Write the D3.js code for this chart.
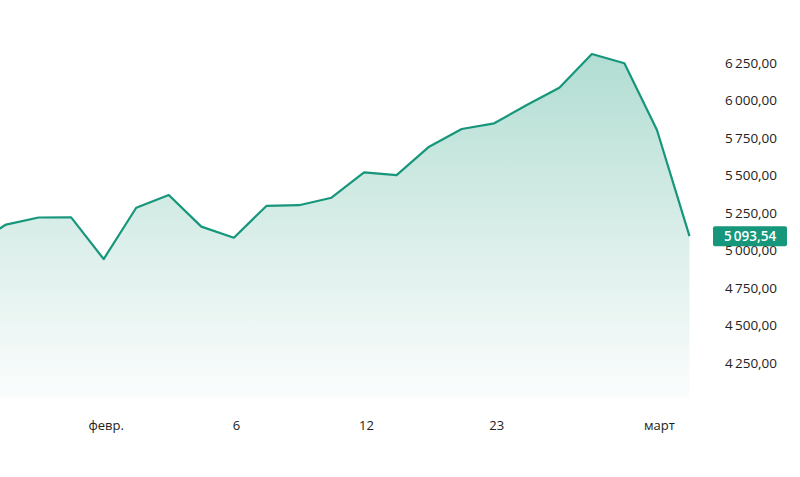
<!DOCTYPE html>
<html><head><meta charset="utf-8">
<script src="https://cdn.jsdelivr.net/npm/d3@7"></script>
<style>
html,body{margin:0;padding:0;background:#fff;}
svg{display:block;}
text{font-family:"Open Sans","Noto Sans",sans-serif;}
</style></head>
<body>
<svg id="chart" width="800" height="477"></svg>
<script>
// trading sessions (index) and close values
const categories = d3.range(23);
const values = [5035, 5171, 5218, 5219, 4941, 5283, 5368, 5157, 5083, 5295, 5300, 5350, 5519, 5501, 5690, 5808, 5846, 5968, 6083, 6308, 6246, 5801, 5093.54];
const xTickIndex = [4, 8, 12, 16, 21];
const xTickLabels = ["февр.", "6", "12", "23", "март"];
const yTicks = [4250, 4500, 4750, 5000, 5250, 5500, 5750, 6000, 6250];
const lastValue = 5093.54;

const svg = d3.select("#chart");
const x = d3.scaleLinear().domain([0, 22]).range([-26.5, 689.5]);
const y = d3.scaleLinear().domain([4250, 6250]).range([362.7, 62.7]);
const plotBottom = 398;

const fmt = v => {
  const s = v.toFixed(2).split(".");
  const intPart = s[0].replace(/\B(?=(\d{3})+(?!\d))/g, "\u2009");
  return intPart + "," + s[1];
};

const defs = svg.append("defs");
defs.append("clipPath").attr("id", "clip").append("rect")
  .attr("x", 0).attr("y", 0).attr("width", 700).attr("height", plotBottom);
const grad = defs.append("linearGradient").attr("id", "fillGrad")
  .attr("gradientUnits", "userSpaceOnUse")
  .attr("x1", 0).attr("x2", 0).attr("y1", y(d3.max(values))).attr("y2", plotBottom);
grad.append("stop").attr("offset", 0).attr("stop-color", "#b1ddd2");
grad.append("stop").attr("offset", 0.55).attr("stop-color", "#dcefea");
grad.append("stop").attr("offset", 1).attr("stop-color", "#fbfdfd");

const data = categories.map((c, i) => ({i: c, v: values[i]}));
const g = svg.append("g").attr("clip-path", "url(#clip)");

g.append("path").datum(data)
  .attr("fill", "url(#fillGrad)")
  .attr("d", d3.area().x(d => x(d.i)).y0(plotBottom).y1(d => y(d.v)));
g.append("path").datum(data)
  .attr("fill", "none").attr("stroke", "#16967a").attr("stroke-width", 2.2)
  .attr("stroke-linejoin", "round")
  .attr("d", d3.line().x(d => x(d.i)).y(d => y(d.v)));

// Y axis (right)
const yAxis = d3.axisRight(y).tickValues(yTicks).tickSize(0).tickPadding(0).tickFormat(fmt);
const ya = svg.append("g").attr("transform", "translate(725,0)").call(yAxis);
ya.select(".domain").remove();
ya.selectAll("text").attr("font-size", 13.5).attr("fill", "#222")
  .attr("font-family", "'Open Sans','Noto Sans',sans-serif");

// X axis
const xAxis = d3.axisBottom(x).tickValues(xTickIndex).tickSize(0).tickPadding(0)
  .tickFormat(d => xTickLabels[xTickIndex.indexOf(d)]);
const xa = svg.append("g").attr("transform", "translate(2,421)").call(xAxis);
xa.select(".domain").remove();
xa.selectAll("text").attr("font-size", 13).attr("fill", "#222")
  .attr("font-family", "'Open Sans','Noto Sans',sans-serif");

// last value badge
const by = y(lastValue);
svg.append("rect").attr("x", 713).attr("y", by - 10).attr("width", 74).attr("height", 20)
  .attr("rx", 2).attr("fill", "#16977b");
svg.append("text").attr("x", 750).attr("y", by).attr("dy", "0.36em")
  .attr("text-anchor", "middle").attr("font-size", 13.5).attr("font-weight", 600)
  .attr("fill", "#fff").text(fmt(lastValue));
</script>
</body></html>
